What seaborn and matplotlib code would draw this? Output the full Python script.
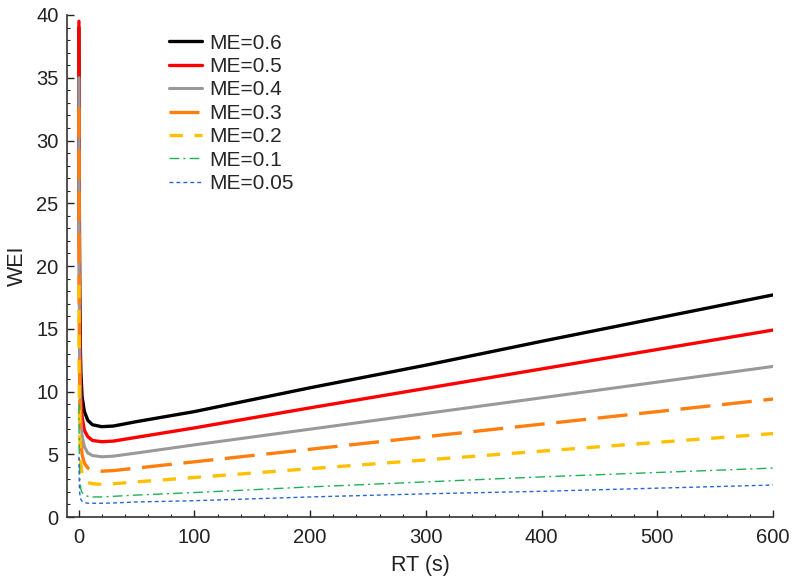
"""WEI versus residence time for several ME values."""

import matplotlib

matplotlib.use("Agg")
import matplotlib.pyplot as plt
import pandas as pd
import seaborn as sns
from matplotlib.ticker import MultipleLocator

# residence time (s)
RT = [0.3, 0.6, 1, 1.5, 2, 3, 5, 8, 12, 20, 30, 50, 100, 200, 300, 400, 500, 600]

WEI_06 = [39.0, 26.0, 18.0, 13.5, 11.5, 9.6, 8.4, 7.7, 7.35, 7.2, 7.25, 7.6, 8.4, 10.3, 12.1, 14.0, 15.85, 17.7]
WEI_05 = [39.5, 22.0, 15.0, 11.5, 9.5, 8.0, 6.9, 6.4, 6.1, 6.0, 6.05, 6.35, 7.1, 8.7, 10.25, 11.8, 13.35, 14.9]
WEI_04 = [35.0, 18.0, 12.0, 9.2, 7.8, 6.5, 5.6, 5.1, 4.9, 4.8, 4.85, 5.1, 5.75, 7.0, 8.25, 9.5, 10.75, 12.0]
WEI_03 = [32.6, 15.0, 9.5, 7.2, 6.0, 5.0, 4.3, 3.9, 3.7, 3.65, 3.7, 3.9, 4.4, 5.4, 6.4, 7.4, 8.4, 9.4]
WEI_02 = [18.5, 9.5, 6.5, 5.0, 4.2, 3.5, 3.0, 2.75, 2.65, 2.6, 2.65, 2.8, 3.15, 3.85, 4.55, 5.25, 5.95, 6.65]
WEI_01 = [9.0, 4.8, 3.3, 2.6, 2.2, 1.95, 1.75, 1.65, 1.6, 1.6, 1.65, 1.75, 1.95, 2.4, 2.8, 3.2, 3.55, 3.9]
WEI_005 = [4.8, 2.6, 1.9, 1.55, 1.4, 1.25, 1.15, 1.1, 1.1, 1.1, 1.12, 1.2, 1.3, 1.6, 1.85, 2.05, 2.3, 2.55]

LABELS = ["ME=0.6", "ME=0.5", "ME=0.4", "ME=0.3", "ME=0.2", "ME=0.1", "ME=0.05"]
SERIES = [WEI_06, WEI_05, WEI_04, WEI_03, WEI_02, WEI_01, WEI_005]

STYLES = [
    ("#000000", 2.4, None),
    ("#ff0000", 2.4, None),
    ("#999999", 2.2, None),
    ("#ff7f0e", 2.4, (9, 3.5)),
    ("#ffc000", 2.4, (4, 3.5)),
    ("#1fb157", 1.0, (7, 3, 1.5, 3)),
    ("#2a64d8", 1.0, (2.8, 2.2)),
]


def main() -> None:
    sns.set_theme(style="ticks")
    plt.rcParams["font.family"] = ["Liberation Sans", "DejaVu Sans"]

    df = pd.concat(
        [pd.DataFrame({"RT": RT, "WEI": vals, "ME": lab}) for lab, vals in zip(LABELS, SERIES)],
        ignore_index=True,
    )

    fig = plt.figure(figsize=(7.93, 5.88), dpi=100)
    ax = fig.add_axes([0.0845, 0.1207, 0.8905, 0.8538])

    for lab, (color, lw, dash) in zip(LABELS, STYLES):
        sub = df[df["ME"] == lab]
        sns.lineplot(data=sub, x="RT", y="WEI", ax=ax, color=color, lw=lw, label=lab)
        if dash is not None:
            ax.lines[-1].set_dashes(dash)

    ax.set_xlim(-10, 600)
    ax.set_ylim(0, 40)
    ax.xaxis.set_major_locator(MultipleLocator(100))
    ax.xaxis.set_minor_locator(MultipleLocator(20))
    ax.yaxis.set_major_locator(MultipleLocator(5))
    ax.yaxis.set_minor_locator(MultipleLocator(1))
    ax.tick_params(which="major", direction="in", length=5, width=1, labelsize=14.5, colors="#222222", pad=6)
    ax.tick_params(which="minor", direction="in", length=2.5, width=0.8, colors="#222222")
    ax.tick_params(axis="x", pad=8)
    sns.despine(ax=ax)
    for side in ("left", "bottom"):
        ax.spines[side].set_color("#333333")
        ax.spines[side].set_linewidth(1.2)

    ax.set_xlabel("RT (s)", fontsize=15.5, color="#222222", labelpad=6)
    ax.set_ylabel("WEI", fontsize=15.5, color="#222222", labelpad=6)

    ax.legend(
        loc="upper left",
        bbox_to_anchor=(0.118, 1.0),
        frameon=False,
        fontsize=15,
        handlelength=1.6,
        handletextpad=0.35,
        labelspacing=0.21,
    )

    fig.savefig("out.png", dpi=100)
    plt.close(fig)


if __name__ == "__main__":
    main()
